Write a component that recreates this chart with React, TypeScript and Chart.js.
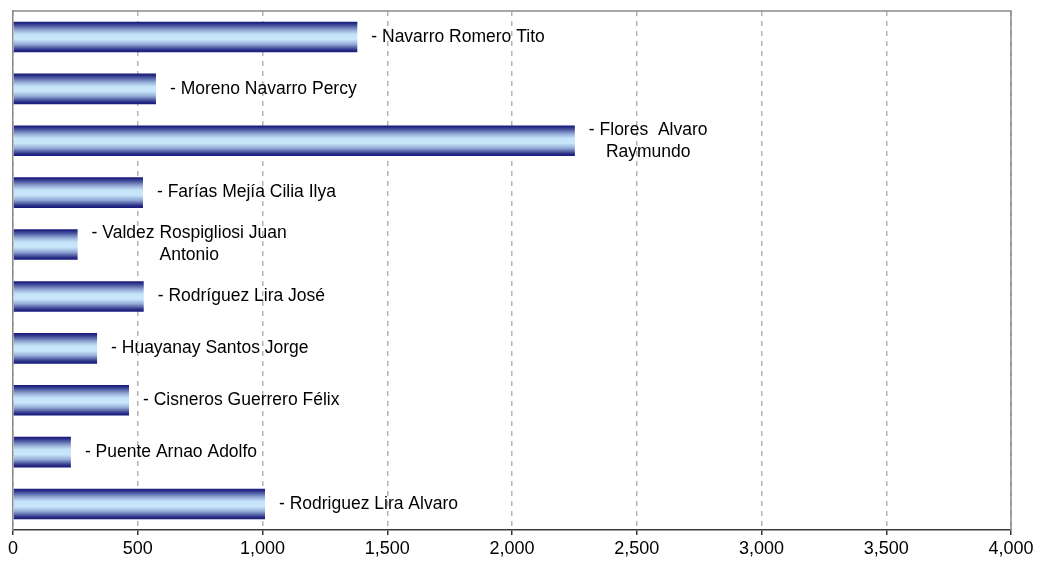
import { useEffect, useRef } from "react";
import { Chart, registerables } from "chart.js";

Chart.register(...registerables);

const categories = [
  "Navarro Romero Tito",
  "Moreno Navarro Percy",
  "Flores  Alvaro Raymundo",
  "Farías Mejía Cilia Ilya",
  "Valdez Rospigliosi Juan Antonio",
  "Rodríguez Lira José",
  "Huayanay Santos Jorge",
  "Cisneros Guerrero Félix",
  "Puente Arnao Adolfo",
  "Rodriguez Lira Alvaro",
];

const barLabels = [
  "- Navarro Romero Tito",
  "- Moreno Navarro Percy",
  "- Flores  Alvaro\nRaymundo",
  "- Farías Mejía Cilia Ilya",
  "- Valdez Rospigliosi Juan\nAntonio",
  "- Rodríguez Lira José",
  "- Huayanay Santos Jorge",
  "- Cisneros Guerrero Félix",
  "- Puente Arnao Adolfo",
  "- Rodriguez Lira Alvaro",
];

const values = [1380, 573, 2252, 521, 259, 524, 337, 465, 232, 1010];

const axisMin = 0;
const axisMax = 4000;
const axisStep = 500;

const FONT = '"Liberation Sans", Arial, Helvetica, sans-serif';
const BAR_FRACTION = 0.59;

const labelPlugin = {
  id: "barLabels",
  afterDatasetsDraw(chart: any) {
    const meta = chart.getDatasetMeta(0);
    const ctx = chart.ctx;
    ctx.save();
    ctx.font = `17.5px ${FONT}`;
    ctx.fillStyle = "#000";
    ctx.textAlign = "center";
    ctx.textBaseline = "middle";
    meta.data.forEach((el: any, i: number) => {
      const lines = barLabels[i].split("\n");
      const w = Math.max(...lines.map((l: string) => ctx.measureText(l).width));
      const cx = el.x + 14 + w / 2;
      const lh = 22;
      const y0 = el.y - ((lines.length - 1) * lh) / 2;
      lines.forEach((l: string, j: number) => ctx.fillText(l, cx, y0 + j * lh));
    });
    ctx.restore();
  },
};

const framePlugin = {
  id: "frame",
  afterDraw(chart: any) {
    const { ctx, chartArea } = chart;
    ctx.save();
    ctx.strokeStyle = "#8a8a8a";
    ctx.lineWidth = 1.5;
    ctx.beginPath();
    ctx.moveTo(chartArea.left, chartArea.top);
    ctx.lineTo(chartArea.right, chartArea.top);
    ctx.lineTo(chartArea.right, chartArea.bottom);
    ctx.stroke();
    ctx.restore();
  },
};

export default function App() {
  const ref = useRef<HTMLCanvasElement | null>(null);

  useEffect(() => {
    if (!ref.current) return;
    const chart = new Chart(ref.current, {
      type: "bar",
      data: {
        labels: categories,
        datasets: [
          {
            data: values,
            backgroundColor: (c: any) => {
              const ch = c.chart;
              const ys = ch.scales && ch.scales.y;
              if (!ys || c.type !== "data" || !ys.height) return "#9fc0e0";
              const center = ys.getPixelForValue(c.dataIndex);
              const half = ((ys.height / categories.length) * BAR_FRACTION) / 2;
              const g = ch.ctx.createLinearGradient(0, center - half, 0, center + half);
              g.addColorStop(0, "#16167a");
              g.addColorStop(0.07, "#2c3288");
              g.addColorStop(0.28, "#94abd6");
              g.addColorStop(0.42, "#c6e4f9");
              g.addColorStop(0.58, "#c8e7fb");
              g.addColorStop(0.74, "#94abd6");
              g.addColorStop(0.92, "#2c3288");
              g.addColorStop(1, "#16167a");
              return g;
            },
            borderWidth: 0,
            categoryPercentage: 1,
            barPercentage: BAR_FRACTION,
          },
        ],
      },
      options: {
        indexAxis: "y",
        animation: false,
        responsive: true,
        maintainAspectRatio: false,
        layout: { padding: { left: 13, right: 27, top: 11, bottom: 0 } },
        plugins: {
          legend: { display: false },
          tooltip: { enabled: false },
          title: { display: false },
        },
        scales: {
          x: {
            type: "linear",
            min: axisMin,
            max: axisMax,
            ticks: {
              stepSize: axisStep,
              color: "#000",
              font: { family: FONT, size: 18 },
              padding: 3,
              maxRotation: 0,
              callback: (v: any) => Number(v).toLocaleString("en-US"),
            },
            grid: {
              color: "#b4b4b4",
              lineWidth: 1.5,
              drawTicks: true,
              tickLength: 5,
              tickColor: "#333",
              tickWidth: 1.5,
              tickBorderDash: [],
            },
            border: { display: true, color: "#3a3a3a", width: 1.5, dash: [5, 5] },
            afterFit: (s: any) => {
              s.height = 39;
            },
          },
          y: {
            type: "category",
            ticks: { display: false },
            grid: { display: false },
            border: { display: true, color: "#8a8a8a", width: 1.5 },
            afterFit: (s: any) => {
              s.width = 0;
            },
          },
        },
      } as any,
      plugins: [labelPlugin, framePlugin],
    });
    return () => chart.destroy();
  }, []);

  return (
    <div style={{ position: "fixed", left: 0, top: 0, width: 1038, height: 569, background: "#fff" }}>
      <canvas ref={ref} />
    </div>
  );
}
